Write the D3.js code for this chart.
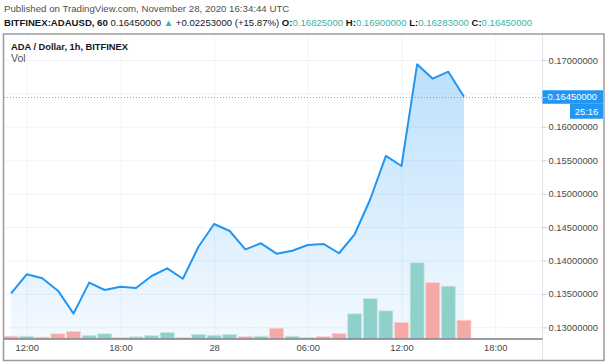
<!DOCTYPE html>
<html><head><meta charset="utf-8">
<script src="https://cdn.jsdelivr.net/npm/d3@7/dist/d3.min.js"></script>
<style>
html,body{margin:0;padding:0;background:#fff;}
svg{display:block;font-family:"Liberation Sans",Arial,sans-serif;}
</style></head>
<body><svg id="c" width="608" height="364"></svg>
<script>
// ---- data ----
const times = [
 "2020-11-27T11:00","2020-11-27T12:00","2020-11-27T13:00","2020-11-27T14:00","2020-11-27T15:00",
 "2020-11-27T16:00","2020-11-27T17:00","2020-11-27T18:00","2020-11-27T19:00","2020-11-27T20:00",
 "2020-11-27T21:00","2020-11-27T22:00","2020-11-27T23:00","2020-11-28T00:00","2020-11-28T01:00",
 "2020-11-28T02:00","2020-11-28T03:00","2020-11-28T04:00","2020-11-28T05:00","2020-11-28T06:00",
 "2020-11-28T07:00","2020-11-28T08:00","2020-11-28T09:00","2020-11-28T10:00","2020-11-28T11:00",
 "2020-11-28T12:00","2020-11-28T13:00","2020-11-28T14:00","2020-11-28T15:00","2020-11-28T16:00"];
const closes = [0.13509,0.13793,0.13733,0.13548,0.13204,0.13668,0.13558,0.13608,0.13588,0.13768,
 0.13883,0.13727,0.14206,0.14546,0.14441,0.14167,0.14257,0.14102,0.14146,0.14232,
 0.14247,0.14108,0.14392,0.14916,0.15564,0.15414,0.16936,0.16720,0.16825,0.16450];
const volumes = [0.092,0.092,0.052,0.188,0.28,0.12,0.188,0.04,0.068,0.12,
 0.24,0.04,0.16,0.132,0.16,0.08,0.092,0.412,0.092,0.04,
 0.08,0.2,0.988,1.6,1.108,0.64,3.028,2.24,2.092,0.732];
const volUp = [0,1,0,0,0,1,1,0,1,1, 1,0,1,1,1,0,1,0,1,1, 0,0,1,1,1,0,1,0,1,0];
const gridTicks = [0.13,0.135,0.14,0.145,0.15,0.155,0.16,0.165,0.17];
const priceTicks = [0.13,0.135,0.14,0.145,0.15,0.155,0.16,0.17];
const timeTicks = ["2020-11-27T12:00","2020-11-27T18:00","2020-11-28T00:00","2020-11-28T06:00","2020-11-28T12:00","2020-11-28T18:00"];
const timeTickLabels = ["12:00","18:00","28","06:00","12:00","18:00"];
const lastPrice = 0.1645;

const parse = d3.timeParse("%Y-%m-%dT%H:%M");
const data = times.map((t,i)=>({t:parse(t),c:closes[i],v:volumes[i],up:volUp[i]}));

const svg = d3.select("#c");
const L=4, R=542.5, T=34, B=338.5;

const x = d3.scaleTime().domain([parse("2020-11-27T12:00"),parse("2020-11-28T18:00")]).range([26.7,495.2]);
const y = d3.scaleLinear().domain([0.13,0.17]).range([327.3,60]);
const yv = d3.scaleLinear().domain([0,4]).range([B,B-100]);

const defs = svg.append("defs");
const g = defs.append("linearGradient").attr("id","ag").attr("gradientUnits","userSpaceOnUse")
  .attr("x1",0).attr("x2",0).attr("y1",60).attr("y2",B);
g.append("stop").attr("offset",0).attr("stop-color","rgba(33,150,243,0.30)");
g.append("stop").attr("offset",1).attr("stop-color","rgba(33,150,243,0.05)");
defs.append("clipPath").attr("id","pc").append("rect").attr("x",L).attr("y",T).attr("width",R-L).attr("height",B-T);

// grid
const gridY = svg.append("g").attr("transform",`translate(${L},0)`)
  .call(d3.axisRight(y).tickValues(gridTicks).tickSize(R-L).tickFormat(""));
gridY.select(".domain").remove();
gridY.selectAll("line").attr("stroke","#f0f3fa");
const gridX = svg.append("g").attr("transform",`translate(0,${B})`)
  .call(d3.axisTop(x).tickValues(timeTicks.map(parse)).tickSize(B-T).tickFormat(""));
gridX.select(".domain").remove();
gridX.selectAll("line").attr("stroke","#f0f3fa");

const plot = svg.append("g").attr("clip-path","url(#pc)");

// area
plot.append("path").datum(data)
  .attr("d",d3.area().x(d=>x(d.t)).y0(B).y1(d=>y(d.c)))
  .attr("fill","url(#ag)");

// volume bars
plot.selectAll("rect.v").data(data).join("rect").attr("class","v")
  .attr("x",d=>x(d.t)-7).attr("width",14)
  .attr("y",d=>yv(d.v)).attr("height",d=>B-yv(d.v))
  .attr("fill",d=>d.up?"#8fd1ca":"#f5a8a6")
  .attr("stroke",d=>d.up?"#c6e9e5":"#fbd3d2").attr("stroke-width",0.8);

// last price dotted line
plot.append("line").attr("x1",L).attr("x2",R).attr("y1",Math.round(y(lastPrice))+0.5).attr("y2",Math.round(y(lastPrice))+0.5)
  .attr("stroke","#2196f3").attr("stroke-width",1).attr("stroke-dasharray","1,2").attr("opacity",0.7);

// line
plot.append("path").datum(data)
  .attr("d",d3.line().x(d=>x(d.t)).y(d=>y(d.c)))
  .attr("fill","none").attr("stroke","#2196f3").attr("stroke-width",2).attr("stroke-linejoin","round");

// right axis
svg.append("line").attr("x1",R).attr("x2",R).attr("y1",T).attr("y2",361).attr("stroke","#e0e3eb");
const ya = svg.append("g").attr("transform",`translate(${R},0)`)
  .call(d3.axisRight(y).tickValues(priceTicks).tickSize(4).tickPadding(2).tickFormat(d=>d.toFixed(8)));
ya.select(".domain").remove();
ya.selectAll("line").attr("stroke","#c8cbd3");
ya.selectAll("text").attr("fill","#4a4a4a").style("font-size","9.4px").style("font-family","Liberation Sans, Arial, sans-serif");

// x axis
const xa = svg.append("g").attr("transform",`translate(0,${B})`)
  .call(d3.axisBottom(x).tickValues(timeTicks.map(parse)).tickSize(0).tickPadding(6)
    .tickFormat((d,i)=>timeTickLabels[i]));
xa.select(".domain").attr("d",`M${L},0.5H${R}`).attr("stroke","#3a3e4a");
xa.selectAll("text").attr("fill","#4a4a4a").style("font-size","9.4px").style("font-family","Liberation Sans, Arial, sans-serif");

// price label
const py = y(lastPrice);
svg.append("rect").attr("x",R).attr("y",py-6.5).attr("width",603-R).attr("height",13.5).attr("fill","#2196f3");
svg.append("line").attr("x1",R).attr("x2",R+4).attr("y1",Math.round(py)+0.5).attr("y2",Math.round(py)+0.5).attr("stroke","#fff").attr("opacity",0.6);
svg.append("text").attr("x",547.5).attr("y",py+3.5).attr("fill","#fff").style("font-size","9.4px").text(lastPrice.toFixed(8));
svg.append("rect").attr("x",570).attr("y",py+7).attr("width",33).attr("height",15).attr("fill","#2196f3");
svg.append("text").attr("x",586.5).attr("y",py+18).attr("text-anchor","middle").attr("fill","#fff").style("font-size","9.4px").text("25:16");

// frame
svg.append("rect").attr("x",3.5).attr("y",34).attr("width",600.5).attr("height",326.5)
  .attr("fill","none").attr("stroke","#9a9a9a").attr("stroke-width",1.5);

function fitFont(sel, base, target){
  const w = sel.node().getComputedTextLength();
  if (w > 0) sel.style("font-size", (base*target/w).toFixed(2)+"px");
}

// titles
const t1 = svg.append("text").attr("x",11).attr("y",50).attr("fill","#131722").style("font-size","10.5px").style("font-weight","bold")
  .text("ADA / Dollar, 1h, BITFINEX");
fitFont(t1,10.5,117);
svg.append("text").attr("x",11).attr("y",62).attr("fill","#555").style("font-size","10.5px").text("Vol");

// header
const h1 = svg.append("text").attr("x",4).attr("y",12).attr("fill","#505050").style("font-size","10.5px")
  .text("Published on TradingView.com, November 28, 2020 16:34:44 UTC");
fitFont(h1,10.5,286);
const h2 = svg.append("text").attr("x",4).attr("y",26).attr("fill","#131722").style("font-size","10.5px");
const teal="#3bb3a4";
[["BITFINEX:ADAUSD, 60",1,null],[" 0.16450000 ",0,null],["▲",0,teal],[" +0.02253000 (+15.87%) ",0,null],
 ["O:",1,null],["0.16825000",0,teal],[" H:",1,null],["0.16900000",0,teal],[" L:",1,null],["0.16283000",0,teal],
 [" C:",1,null],["0.16450000",0,teal]].forEach(([s,b,c])=>{
  const t=h2.append("tspan").text(s);
  if(b) t.style("font-weight","bold");
  if(c) t.attr("fill",c);
});
fitFont(h2,10.5,529);
</script></body></html>
